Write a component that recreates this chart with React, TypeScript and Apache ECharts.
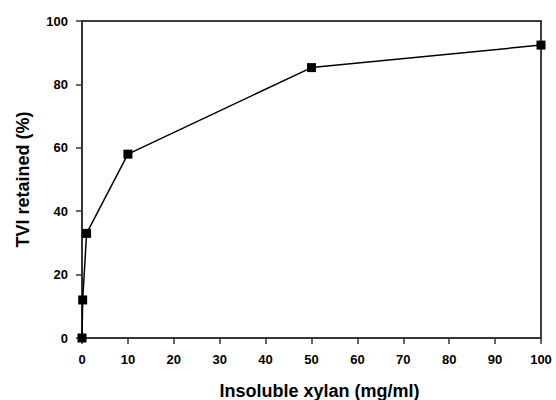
import React, { useEffect, useRef } from "react";
import * as echarts from "echarts";

const xValues = [0, 0.15, 1, 10, 50, 100];
const yValues = [0, 12, 33, 58, 85.3, 92.4];
const xTitle = "Insoluble xylan (mg/ml)";
const yTitle = "TVI retained (%)";

export default function App() {
  const ref = useRef<HTMLDivElement>(null);
  useEffect(() => {
    if (!ref.current) return;
    const chart = echarts.init(ref.current, null, { renderer: "svg" });
    const font = "Liberation Sans, Arial, sans-serif";
    chart.setOption({
      animation: false,
      grid: {
        left: 82, right: 15, top: 21, bottom: 62,
        show: true, borderColor: "#000", borderWidth: 1.5,
        outerBoundsMode: "none", containLabel: false,
      },
      xAxis: {
        type: "value",
        min: 0,
        max: 100,
        interval: 10,
        name: xTitle,
        nameLocation: "middle",
        nameGap: 44,
        nameTextStyle: { fontFamily: font, fontWeight: "bold", fontSize: 18, color: "#000", padding: [0, 0, 0, 16] },
        axisLine: { lineStyle: { color: "#333", width: 1.5 } },
        axisTick: { inside: false, length: 6, lineStyle: { color: "#333", width: 1.5 } },
        axisLabel: { margin: 15, fontFamily: font, fontWeight: "bold", fontSize: 13, color: "#000" },
        splitLine: { show: false },
      },
      yAxis: {
        type: "value",
        min: 0,
        max: 100,
        interval: 20,
        name: yTitle,
        nameLocation: "middle",
        nameGap: 50,
        nameTextStyle: { fontFamily: font, fontWeight: "bold", fontSize: 18, color: "#000" },
        axisLine: { lineStyle: { color: "#333", width: 1.5 } },
        axisTick: { inside: false, length: 6, lineStyle: { color: "#333", width: 1.5 } },
        axisLabel: { margin: 14, fontFamily: font, fontWeight: "bold", fontSize: 13, color: "#000" },
        splitLine: { show: false },
      },
      series: [
        {
          type: "line",
          data: xValues.map((x, i) => [x, yValues[i]]),
          symbol: "rect",
          symbolSize: 9,
          itemStyle: { color: "#000" },
          lineStyle: { color: "#000", width: 1.5 },
        },
      ],
    });
    return () => chart.dispose();
  }, []);
  return <div ref={ref} style={{ width: 556, height: 400, position: "absolute", left: 0, top: 0 }} />;
}
